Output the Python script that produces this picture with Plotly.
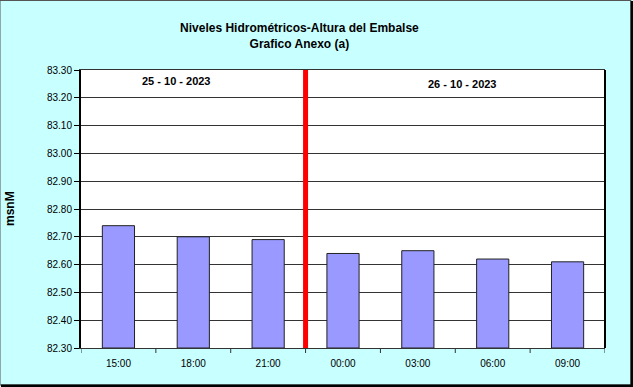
import plotly.graph_objects as go

categories = ["15:00", "18:00", "21:00", "00:00", "03:00", "06:00", "09:00"]
values = [82.74, 82.70, 82.69, 82.64, 82.65, 82.62, 82.61]
y_ticks = [82.30, 82.40, 82.50, 82.60, 82.70, 82.80, 82.90, 83.00, 83.10, 83.20, 83.30]
date_labels = ["25 - 10 - 2023", "26 - 10 - 2023"]
y_base = 82.30

fig = go.Figure()
fig.add_trace(go.Bar(
    x=list(range(len(categories))), y=[v - y_base for v in values], base=y_base,
    marker=dict(color="#9999FF", line=dict(color="#222222", width=1)),
    width=0.43,
))

fig.update_layout(
    width=633, height=387,
    margin=dict(l=81, r=28, t=70, b=39, autoexpand=False),
    paper_bgcolor="#C8FFFF",
    plot_bgcolor="#FFFFFF",
    showlegend=False,
    font=dict(family="Arial, Liberation Sans", size=10, color="#000000"),
    title=dict(
        text="<b>Niveles Hidrométricos-Altura del Embalse<br>Grafico Anexo (a)</b>",
        x=0.473, xanchor="center", y=0.917, yanchor="middle",
        font=dict(size=12),
    ),
    xaxis=dict(
        range=[-0.5, len(categories) - 0.5],
        tickvals=list(range(len(categories))), ticktext=categories,
        showgrid=False, ticks="outside", ticklen=6, tickcolor="rgba(0,0,0,0)",
        showline=True, linecolor="#333333", linewidth=1,
        mirror=True, zeroline=False, automargin=False,
    ),
    yaxis=dict(
        range=[82.30, 83.30], tickvals=y_ticks,
        ticktext=[f"{t:.2f}" for t in y_ticks],
        showgrid=True, gridcolor="#333333", gridwidth=1,
        ticks="outside", ticklen=5, tickcolor="#000000",
        showline=True, linecolor="#000000", linewidth=2, mirror=False,
        zeroline=False, automargin=False,
    ),
)

# y axis title
fig.add_annotation(x=-71/524, y=0.5, xref="paper", yref="paper", text="<b>msnM</b>",
                   textangle=-90, showarrow=False, xanchor="center", yanchor="middle",
                   font=dict(size=12))

# category boundary tick marks on x axis
for i in range(len(categories) + 1):
    fig.add_shape(type="line", xref="x", yref="paper", x0=i - 0.5, x1=i - 0.5,
                  y0=0, y1=-0.018, line=dict(color="#333333", width=1))
# right border of plot
fig.add_shape(type="line", xref="paper", yref="paper", x0=1, x1=1, y0=0, y1=1,
              line=dict(color="#000000", width=2))

# red separator line between days
fig.add_shape(type="line", xref="x", yref="paper", x0=2.5, x1=2.5, y0=0, y1=1,
              line=dict(color="#FF0000", width=5))

fig.add_annotation(x=0.78, y=83.26, xref="x", yref="y", text="<b>" + date_labels[0] + "</b>",
                   showarrow=False, font=dict(size=11))
fig.add_annotation(x=4.6, y=83.25, xref="x", yref="y", text="<b>" + date_labels[1] + "</b>",
                   showarrow=False, font=dict(size=11))

# outer frame with shadow
fig.add_shape(type="rect", xref="paper", yref="paper", x0=-81/524, x1=1 + 26/524,
              y0=-37/278, y1=1 + 69.5/278, line=dict(color="#555555", width=1))
fig.add_shape(type="line", xref="paper", yref="paper", x0=1 + 27/524, x1=1 + 27/524,
              y0=-38/278, y1=1 + 69/278, line=dict(color="#000000", width=3))
fig.add_shape(type="line", xref="paper", yref="paper", x0=-80/524, x1=1 + 28/524,
              y0=-38/278, y1=-38/278, line=dict(color="#000000", width=3))

fig.write_html("out.html")
